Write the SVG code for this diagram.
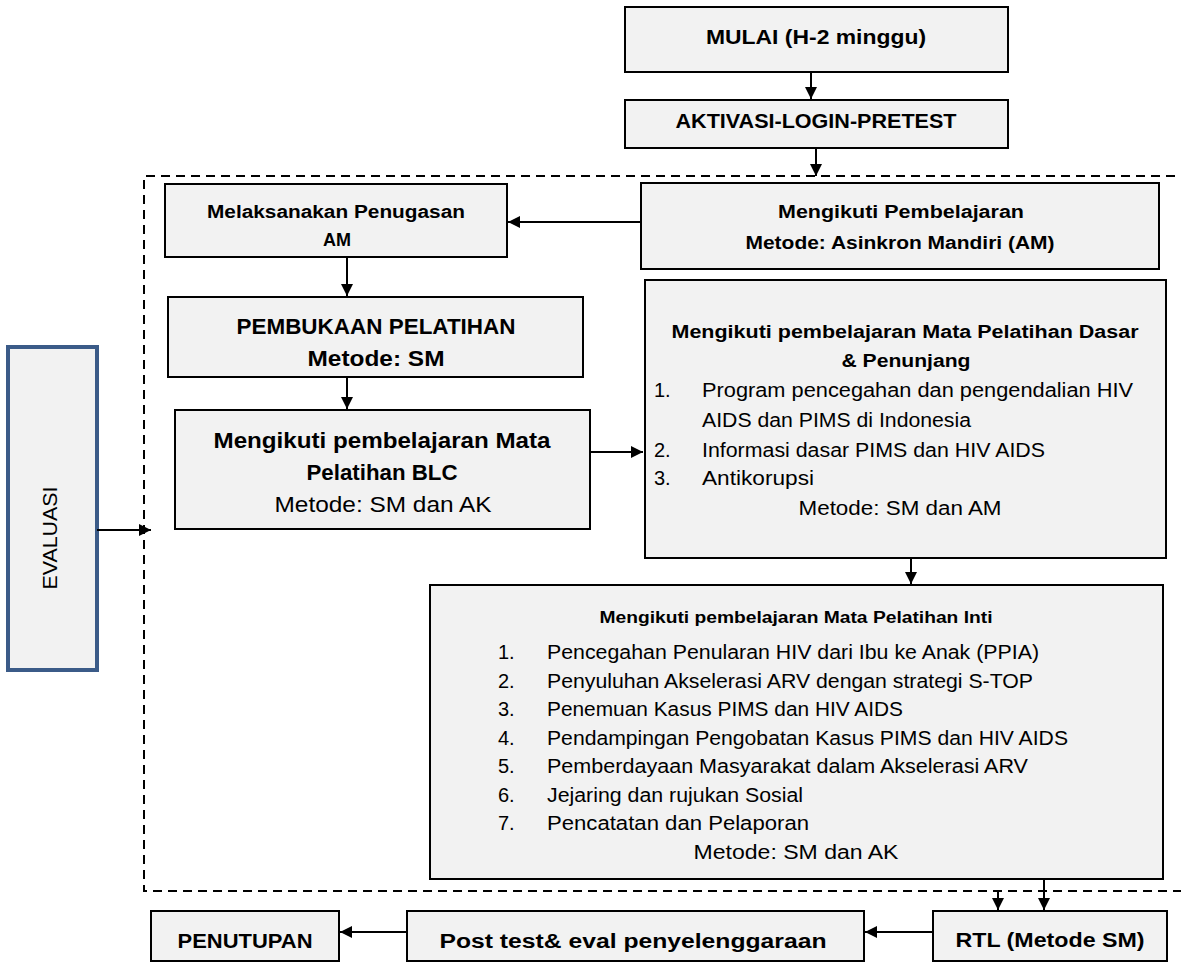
<svg xmlns="http://www.w3.org/2000/svg" width="1181" height="962" viewBox="0 0 1181 962">
<style>
.box{fill:#f2f2f2;stroke:#000;stroke-width:2}
.eval{fill:#f2f2f2;stroke:#3b5b88;stroke-width:4}
.t{font-family:"Liberation Sans",Arial,sans-serif;fill:#000}
.b{font-weight:bold}
.c{text-anchor:middle}
.cn{fill:none;stroke:#000;stroke-width:2}
.dash{fill:none;stroke:#000;stroke-width:2;stroke-dasharray:9 6}
</style>
<defs>
<marker id="ah" viewBox="0 0 10 10" refX="10" refY="5" markerWidth="12" markerHeight="12" markerUnits="userSpaceOnUse" orient="auto"><path d="M0,0 L10,5 L0,10 z" fill="#000"/></marker>
</defs>
<rect width="1181" height="962" fill="#fff"/>
<path class="dash" d="M1190,176 H144 V891 H1190"/>
<g id="mulai"><rect class="box" x="625" y="7" width="383" height="65"/><text class="t b c" x="816" y="44" font-size="21" textLength="220" lengthAdjust="spacingAndGlyphs">MULAI (H-2 minggu)</text></g>
<g id="aktivasi"><rect class="box" x="625" y="100" width="383" height="48"/><text class="t b c" x="816" y="128" font-size="21" textLength="281" lengthAdjust="spacingAndGlyphs">AKTIVASI-LOGIN-PRETEST</text></g>
<g id="melaksanakan"><rect class="box" x="165" y="184" width="342" height="73"/><text class="t b c" x="336" y="218" font-size="18" textLength="258" lengthAdjust="spacingAndGlyphs">Melaksanakan Penugasan</text><text class="t b c" x="337" y="246" font-size="18">AM</text></g>
<g id="mengikuti-am"><rect class="box" x="641" y="183" width="518" height="86"/><text class="t b c" x="901" y="218" font-size="18" textLength="246" lengthAdjust="spacingAndGlyphs">Mengikuti Pembelajaran</text><text class="t b c" x="900" y="249" font-size="18" textLength="309" lengthAdjust="spacingAndGlyphs">Metode: Asinkron Mandiri (AM)</text></g>
<g id="pembukaan"><rect class="box" x="168" y="297" width="415" height="80"/><text class="t b c" x="376" y="334" font-size="22" textLength="279" lengthAdjust="spacingAndGlyphs">PEMBUKAAN PELATIHAN</text><text class="t b c" x="376" y="366" font-size="22" textLength="137" lengthAdjust="spacingAndGlyphs">Metode: SM</text></g>
<g id="blc"><rect class="box" x="175" y="410" width="415" height="119"/><text class="t b c" x="382" y="448" font-size="22" textLength="337" lengthAdjust="spacingAndGlyphs">Mengikuti pembelajaran Mata</text><text class="t b c" x="382" y="480" font-size="22" textLength="151" lengthAdjust="spacingAndGlyphs">Pelatihan BLC</text><text class="t c" x="383" y="512" font-size="22" textLength="217" lengthAdjust="spacingAndGlyphs">Metode: SM dan AK</text></g>
<g id="dasar"><rect class="box" x="645" y="280" width="521" height="278"/>
<text class="t b c" x="905" y="338" font-size="18" textLength="467" lengthAdjust="spacingAndGlyphs">Mengikuti pembelajaran Mata Pelatihan Dasar</text>
<text class="t b c" x="906" y="367" font-size="18" textLength="129" lengthAdjust="spacingAndGlyphs">&amp; Penunjang</text>
<text class="t" x="654" y="397" font-size="20">1.</text><text class="t" x="702" y="397" font-size="20" textLength="431" lengthAdjust="spacingAndGlyphs">Program pencegahan dan pengendalian HIV</text>
<text class="t" x="702" y="427" font-size="20" textLength="269" lengthAdjust="spacingAndGlyphs">AIDS dan PIMS di Indonesia</text>
<text class="t" x="654" y="457" font-size="20">2.</text><text class="t" x="702" y="457" font-size="20" textLength="343" lengthAdjust="spacingAndGlyphs">Informasi dasar PIMS dan HIV AIDS</text>
<text class="t" x="654" y="485" font-size="20">3.</text><text class="t" x="702" y="485" font-size="20" textLength="112" lengthAdjust="spacingAndGlyphs">Antikorupsi</text>
<text class="t c" x="900" y="515" font-size="20" textLength="203" lengthAdjust="spacingAndGlyphs">Metode: SM dan AM</text></g>
<g id="inti"><rect class="box" x="430" y="585" width="733" height="294"/>
<text class="t b c" x="796" y="623" font-size="16" textLength="393" lengthAdjust="spacingAndGlyphs">Mengikuti pembelajaran Mata Pelatihan Inti</text>
<text class="t" x="498" y="659" font-size="20">1.</text><text class="t" x="547" y="659" font-size="20" textLength="492" lengthAdjust="spacingAndGlyphs">Pencegahan Penularan HIV dari Ibu ke Anak (PPIA)</text>
<text class="t" x="498" y="687.5" font-size="20">2.</text><text class="t" x="547" y="687.5" font-size="20" textLength="486" lengthAdjust="spacingAndGlyphs">Penyuluhan Akselerasi ARV dengan strategi S-TOP</text>
<text class="t" x="498" y="716" font-size="20">3.</text><text class="t" x="547" y="716" font-size="20" textLength="356" lengthAdjust="spacingAndGlyphs">Penemuan Kasus PIMS dan HIV AIDS</text>
<text class="t" x="498" y="744.5" font-size="20">4.</text><text class="t" x="547" y="744.5" font-size="20" textLength="521" lengthAdjust="spacingAndGlyphs">Pendampingan Pengobatan Kasus PIMS dan HIV AIDS</text>
<text class="t" x="498" y="773" font-size="20">5.</text><text class="t" x="547" y="773" font-size="20" textLength="481" lengthAdjust="spacingAndGlyphs">Pemberdayaan Masyarakat dalam Akselerasi ARV</text>
<text class="t" x="498" y="801.5" font-size="20">6.</text><text class="t" x="547" y="801.5" font-size="20" textLength="256" lengthAdjust="spacingAndGlyphs">Jejaring dan rujukan Sosial</text>
<text class="t" x="498" y="830" font-size="20">7.</text><text class="t" x="547" y="830" font-size="20" textLength="262" lengthAdjust="spacingAndGlyphs">Pencatatan dan Pelaporan</text>
<text class="t c" x="796" y="859" font-size="20" textLength="205" lengthAdjust="spacingAndGlyphs">Metode: SM dan AK</text></g>
<g id="evaluasi"><rect class="eval" x="8" y="347" width="89" height="323"/><text class="t c" x="0" y="0" font-size="20" transform="translate(57,538) rotate(-90)" textLength="103" lengthAdjust="spacingAndGlyphs">EVALUASI</text></g>
<g id="penutupan"><rect class="box" x="151" y="911" width="188" height="50"/><text class="t b c" x="245" y="948" font-size="20" textLength="135" lengthAdjust="spacingAndGlyphs">PENUTUPAN</text></g>
<g id="posttest"><rect class="box" x="407" y="911" width="457" height="50"/><text class="t b c" x="633" y="948" font-size="20" textLength="387" lengthAdjust="spacingAndGlyphs">Post test&amp; eval penyelenggaraan</text></g>
<g id="rtl"><rect class="box" x="933" y="911" width="234" height="50"/><text class="t b c" x="1050" y="947" font-size="20" textLength="189" lengthAdjust="spacingAndGlyphs">RTL (Metode SM)</text></g>
<g id="connectors">
<path class="cn" d="M811,72 V99" marker-end="url(#ah)"/>
<path class="cn" d="M816,148 V176" marker-end="url(#ah)"/>
<path class="cn" d="M640,222 H508" marker-end="url(#ah)"/>
<path class="cn" d="M347,257 V296" marker-end="url(#ah)"/>
<path class="cn" d="M347,377 V409" marker-end="url(#ah)"/>
<path class="cn" d="M590,452 H643" marker-end="url(#ah)"/>
<path class="cn" d="M911,558 V584" marker-end="url(#ah)"/>
<path class="cn" d="M1044,879 V910" marker-end="url(#ah)"/>
<path class="cn" d="M998,891 V910" marker-end="url(#ah)"/>
<path class="cn" d="M933,932 H865" marker-end="url(#ah)"/>
<path class="cn" d="M407,932 H340" marker-end="url(#ah)"/>
<path class="cn" d="M97,530 H151" marker-end="url(#ah)"/>
</g>
</svg>
